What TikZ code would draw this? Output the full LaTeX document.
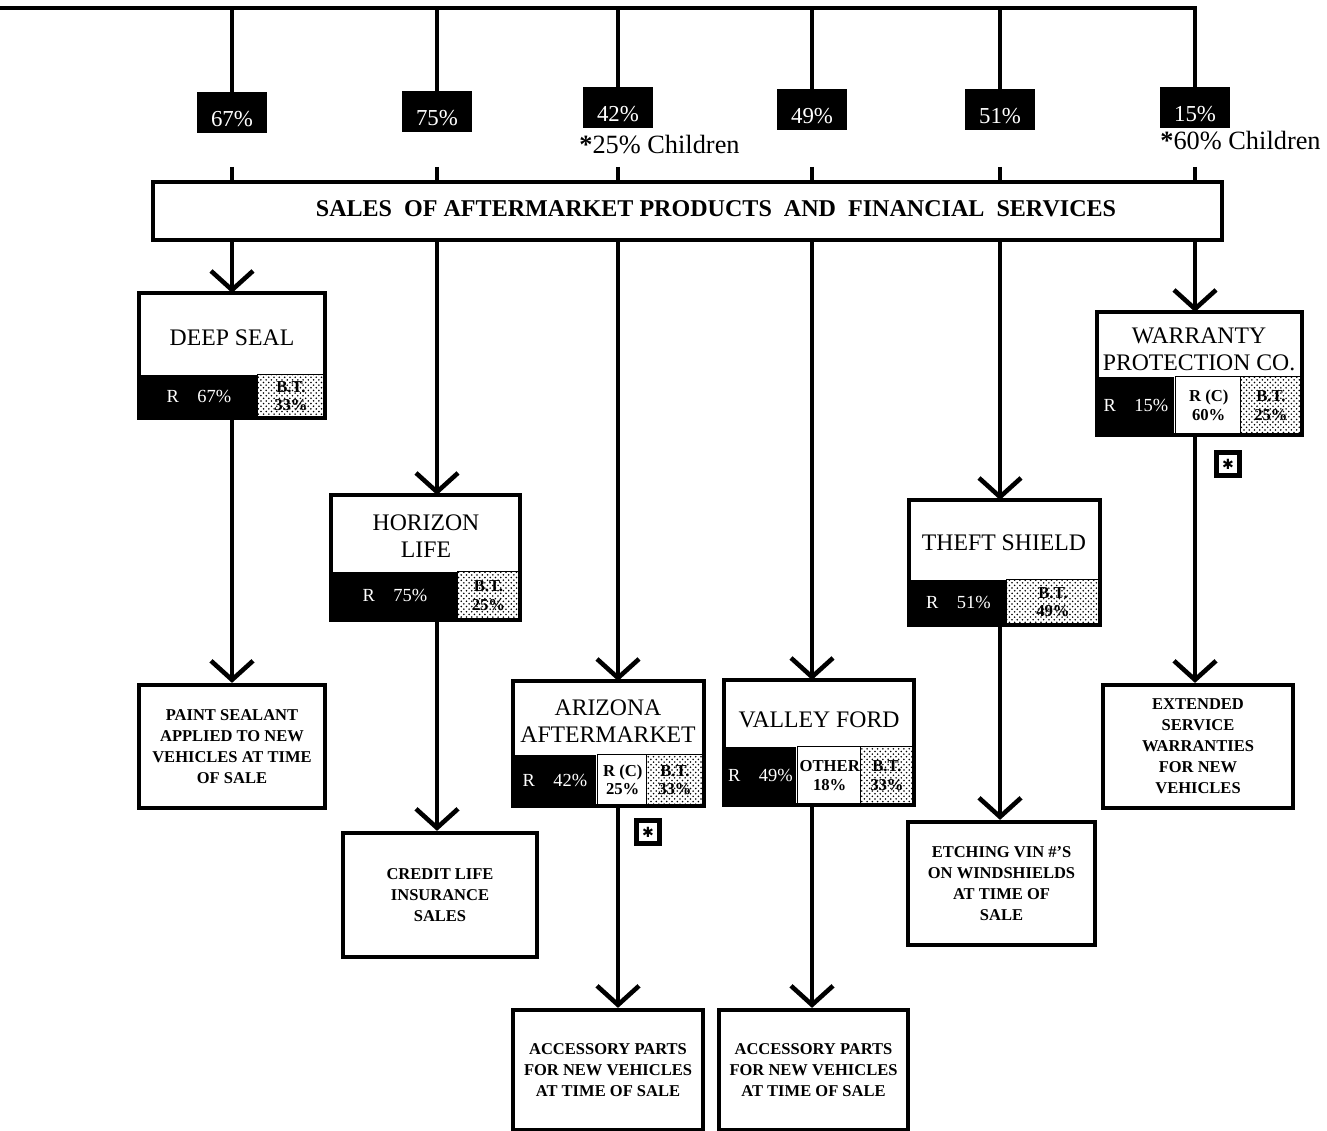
\documentclass[tikz,border=0pt]{standalone}
\usepackage{fontspec}
\setmainfont{Liberation Serif}
\newfontfamily\starfont{DejaVu Sans}
\usetikzlibrary{arrows.meta,positioning,patterns,backgrounds}

\newcommand{\titlesize}{\fontsize{13.7}{15}\selectfont\bfseries}
\newcommand{\cosize}{\fontsize{13.5}{15.5}\selectfont}
\newcommand{\pctsize}{\fontsize{13}{15}\selectfont}
\newcommand{\rsize}{\fontsize{10.5}{12}\selectfont}
\newcommand{\cellsize}{\fontsize{9.5}{10.5}\selectfont\bfseries}
\newcommand{\descsize}{\fontsize{9.4}{12}\selectfont\bfseries}
\newcommand{\notesize}{\fontsize{15}{17}\selectfont}

\begin{document}
\begin{tikzpicture}[x=0.02cm,y=-0.02cm,
  link/.style={line width=2.6pt},
  arrowlink/.style={link,-{Straight Barb[length=0.38cm,width=0.84cm]}},
  pct/.style={fill=black,text=white,minimum width=1.4cm,minimum height=0.82cm,inner sep=0pt,
    text height=0.55cm,text depth=0cm,font=\pctsize},
  note/.style={anchor=west,inner sep=0pt,font=\notesize},
  frame/.style={draw,line width=2.4pt,inner sep=0pt,outer sep=0pt},
  coname/.style={align=center,inner sep=0pt,font=\cosize},
  rcell/.style={fill=black,text=white,inner sep=0pt,anchor=south west,font=\rsize},
  btcell/.style={draw,line width=0.6pt,preaction={fill=white},pattern=crosshatch dots,
    pattern color=black,inner sep=0pt,anchor=south east,align=center,font=\cellsize},
  wcell/.style={draw,line width=0.6pt,fill=white,inner sep=0pt,anchor=south west,align=center,font=\cellsize},
  desc/.style={draw,line width=2.4pt,align=center,inner sep=0pt,font=\descsize},
  starbox/.style={draw,line width=2.8pt,minimum size=0.46cm,inner sep=0pt,font=\starfont\footnotesize}]
  \useasboundingbox (0,0) rectangle (1327,1131);

  % owners' shares
  \coordinate (tl) at (0,8);
  \coordinate (tr) at (1195,8);
  \node[pct] (p1) at (232,113) {67\%};
  \node[pct] (p2) at (437,112) {75\%};
  \node[pct] (p3) at (618,108) {42\%};
  \node[pct] (p4) at (812,110) {49\%};
  \node[pct] (p5) at (1000,110) {51\%};
  \node[pct] (p6) at (1195,108) {15\%};
  \node[note] (n3) at (579,145) {\textbf{*}25\% Children};
  \node[note] (n6) at (1160,141) {\textbf{*}60\% Children};
  \draw[link] (tl) -- (tr) -- (p6);
  \foreach \i in {1,...,5}
    \draw[link] (p\i |- tl) -- (p\i);

  % sales box
  \node[frame,line width=2pt,minimum width=21.38cm,minimum height=1.16cm] (sales) at (687.5,211) {};
  \node[font=\titlesize] (salestitle) at (716,209) {SALES\ \ OF AFTERMARKET PRODUCTS\ \ AND\ \ FINANCIAL\ \ SERVICES};
  \foreach \i in {1,...,6}
    \draw[link] (p\i |- 0,167) -- (p\i |- sales.north);

  % companies
  \node[frame,minimum width=3.72cm,minimum height=2.5cm] (deep) at (232,355.5) {};
  \node[coname] (deepname) at (232,338) {DEEP SEAL};
  \node[frame,minimum width=3.78cm,minimum height=2.5cm] (horizon) at (425.5,557.5) {};
  \node[coname] (horizonname) at (426,536) {HORIZON\\LIFE};
  \node[frame,minimum width=3.82cm,minimum height=2.5cm] (arizona) at (608.5,743.5) {};
  \node[coname] (arizonaname) at (608,721) {ARIZONA\\AFTERMARKET};
  \node[frame,minimum width=3.8cm,minimum height=2.5cm] (valley) at (819,742.5) {};
  \node[coname] (valleyname) at (819,720) {VALLEY FORD};
  \node[frame,minimum width=3.82cm,minimum height=2.5cm] (theft) at (1004.5,562.5) {};
  \node[coname] (theftname) at (1004,543) {THEFT SHIELD};
  \node[frame,minimum width=4.1cm,minimum height=2.46cm] (warranty) at (1199.5,373.5) {};
  \node[coname] (warrantyname) at (1199,349) {WARRANTY\\PROTECTION CO.};

  \begin{scope}[on background layer]
    \node[rcell,minimum width=2.38cm,minimum height=0.86cm] (deepR) at (deep.south west) {R\quad 67\%};
    \node[btcell,minimum width=1.34cm,minimum height=0.86cm] (deepBT) at (deep.south east) {B.T.\\33\%};
    \node[rcell,minimum width=2.54cm,minimum height=0.96cm] (horizonR) at (horizon.south west) {R\quad 75\%};
    \node[btcell,minimum width=1.24cm,minimum height=0.96cm] (horizonBT) at (horizon.south east) {B.T.\\25\%};
    \node[rcell,minimum width=1.66cm,minimum height=1.02cm] (arizonaR) at (arizona.south west) {R\quad 42\%};
    \node[wcell,minimum width=1.02cm,minimum height=1.02cm] (arizonaC) at (arizonaR.south east) {R (C)\\25\%};
    \node[btcell,minimum width=1.14cm,minimum height=1.02cm] (arizonaBT) at (arizona.south east) {B.T.\\33\%};
    \node[rcell,minimum width=1.44cm,minimum height=1.16cm] (valleyR) at (valley.south west) {R\quad 49\%};
    \node[wcell,minimum width=1.3cm,minimum height=1.16cm] (valleyO) at (valleyR.south east) {OTHER\\18\%};
    \node[btcell,minimum width=1.06cm,minimum height=1.16cm] (valleyBT) at (valley.south east) {B.T.\\33\%};
    \node[rcell,minimum width=1.96cm,minimum height=0.9cm] (theftR) at (theft.south west) {R\quad 51\%};
    \node[btcell,minimum width=1.86cm,minimum height=0.9cm] (theftBT) at (theft.south east) {B.T.\\49\%};
    \node[rcell,minimum width=1.54cm,minimum height=1.16cm] (warrantyR) at (warranty.south west) {R\quad 15\%};
    \node[wcell,minimum width=1.34cm,minimum height=1.16cm] (warrantyC) at (warrantyR.south east) {R (C)\\60\%};
    \node[btcell,minimum width=1.22cm,minimum height=1.16cm] (warrantyBT) at (warranty.south east) {B.T.\\25\%};
  \end{scope}

  \node[starbox] (s3) at (648,832) {✱};
  \node[starbox] (s6) at (1228,464) {✱};

  % what they sell
  \node[desc,minimum width=3.72cm,minimum height=2.46cm] (d1) at (232,746.5) {PAINT SEALANT\\APPLIED TO NEW\\VEHICLES AT TIME\\OF SALE};
  \node[desc,minimum width=3.88cm,minimum height=2.48cm] (d2) at (440,895) {CREDIT LIFE\\INSURANCE\\SALES};
  \node[desc,minimum width=3.8cm,minimum height=2.4cm] (d3) at (608,1070) {ACCESSORY PARTS\\FOR NEW VEHICLES\\AT TIME OF SALE};
  \node[desc,minimum width=3.78cm,minimum height=2.4cm] (d4) at (813.5,1070) {ACCESSORY PARTS\\FOR NEW VEHICLES\\AT TIME OF SALE};
  \node[desc,minimum width=3.74cm,minimum height=2.46cm] (d5) at (1001.5,883.5) {ETCHING VIN \#'S\\ON WINDSHIELDS\\AT TIME OF\\SALE};
  \node[desc,minimum width=3.8cm,minimum height=2.46cm] (d6) at (1198,746.5) {EXTENDED\\SERVICE\\WARRANTIES\\FOR NEW\\VEHICLES};

  \draw[arrowlink] (sales.south -| p1) -- (deep.north -| p1);
  \draw[arrowlink] (sales.south -| p2) -- (horizon.north -| p2);
  \draw[arrowlink] (sales.south -| p3) -- (arizona.north -| p3);
  \draw[arrowlink] (sales.south -| p4) -- (valley.north -| p4);
  \draw[arrowlink] (sales.south -| p5) -- (theft.north -| p5);
  \draw[arrowlink] (sales.south -| p6) -- (warranty.north -| p6);

  \draw[arrowlink] (deep.south -| p1) -- (d1.north -| p1);
  \draw[arrowlink] (horizon.south -| p2) -- (d2.north -| p2);
  \draw[arrowlink] (arizona.south -| p3) -- (d3.north -| p3);
  \draw[arrowlink] (valley.south -| p4) -- (d4.north -| p4);
  \draw[arrowlink] (theft.south -| p5) -- (d5.north -| p5);
  \draw[arrowlink] (warranty.south -| p6) -- (d6.north -| p6);
\end{tikzpicture}
\end{document}
